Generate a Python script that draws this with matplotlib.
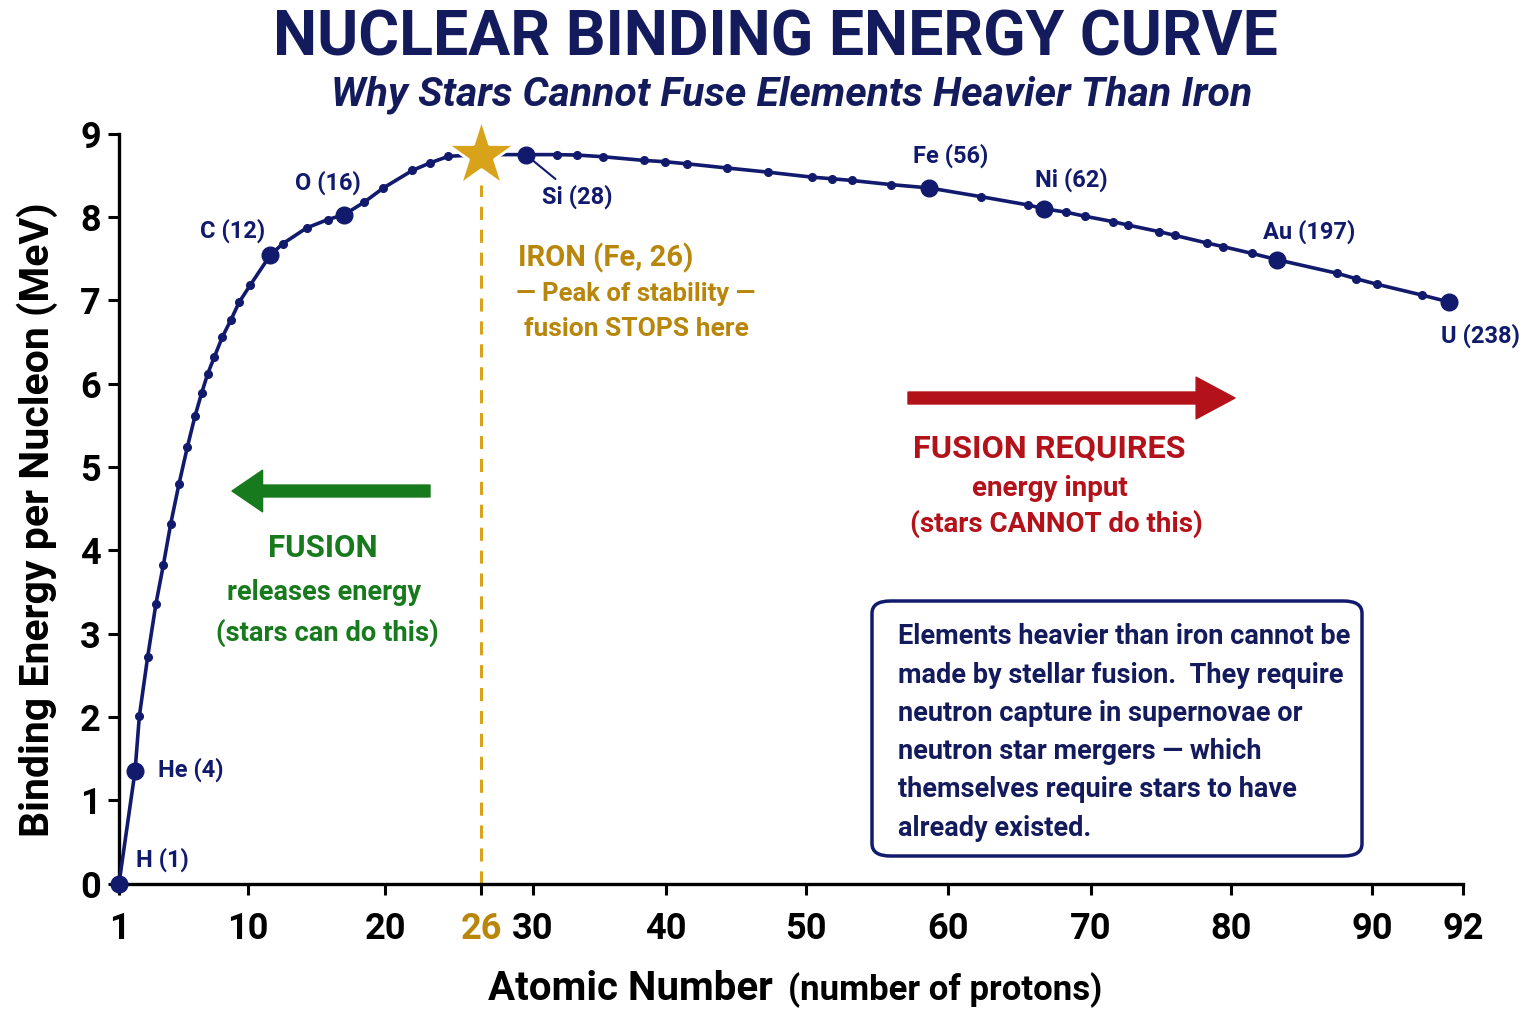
import numpy as np
import matplotlib
matplotlib.use("Agg")
import matplotlib.pyplot as plt
from matplotlib.patches import FancyBboxPatch

plt.rcParams['font.family'] = ['Liberation Sans Narrow', 'Roboto', 'DejaVu Sans']
plt.rcParams['font.weight'] = 'bold'

# ---- data ----
# labelled elements (big dots)
elem_names = ['H (1)', 'He (4)', 'C (12)', 'O (16)', 'Si (28)', 'Fe (56)', 'Ni (62)', 'Au (197)', 'U (238)']
elem_x = [1.0, 2.12, 11.61, 17.03, 29.44, 58.68, 66.71, 83.24, 91.70]
elem_y = [0.0, 1.35, 7.54, 8.03, 8.75, 8.35, 8.10, 7.49, 6.98]

# small dots along the curve
dot_x = [2.42, 3.0, 3.58, 4.09, 4.61, 5.19, 5.77, 6.30, 6.77, 7.19, 7.65, 8.21, 8.79, 9.39,
         10.15, 12.53, 14.28, 15.82, 18.49, 19.88, 21.71, 22.81, 23.96, 31.78, 33.29, 35.24,
         38.37, 39.92, 41.48, 44.34, 47.26, 50.40, 51.85, 53.22, 55.99, 62.31, 65.62, 68.23,
         69.58, 71.59, 72.62, 74.88, 76.0, 78.26, 79.45, 81.47, 87.54, 88.87, 90.10, 91.09]
dot_y = [2.01, 2.72, 3.36, 3.82, 4.32, 4.80, 5.24, 5.61, 5.89, 6.12, 6.32, 6.56, 6.76, 6.98,
         7.18, 7.68, 7.87, 7.97, 8.18, 8.35, 8.56, 8.65, 8.73, 8.75, 8.745, 8.725,
         8.68, 8.665, 8.64, 8.59, 8.54, 8.48, 8.46, 8.44, 8.39, 8.245, 8.145, 8.06,
         8.01, 7.945, 7.905, 7.825, 7.78, 7.69, 7.645, 7.565, 7.325, 7.26, 7.195, 7.065]

# iron peak
iron_x = 26
iron_y = 8.75

x_ticks = [1, 10, 20, 26, 30, 40, 50, 60, 70, 80, 90, 92]
y_ticks = [0, 1, 2, 3, 4, 5, 6, 7, 8, 9]

note_lines = ['Elements heavier than iron cannot be',
              'made by stellar fusion.  They require',
              'neutron capture in supernovae or',
              'neutron star mergers — which',
              'themselves require stars to have',
              'already existed.']

# ---- colours ----
NAVY = '#111a6c'
TITLE = '#141b5c'
GOLD = '#d9a21b'
GOLD_TXT = '#b8860b'
GREEN = '#177a1c'
RED = '#b3121a'

W, H = 1536, 1024


def fp(x, y):
    # figure pixel (from top-left) -> figure fraction
    return x / W, 1 - y / H


# the reference axis is not evenly spaced, so stretch it piecewise
stretch = np.array([0, 129, 266, 362, 414, 547, 687, 829, 972, 1112, 1253, 1344], float)
tv = np.array(x_ticks, float)
tv_ext = np.concatenate([[tv[0] - 1000], tv, [tv[-1] + 1000]])
st_ext = np.concatenate([[stretch[0] - 1000 * 14.3], stretch, [stretch[-1] + 1000 * 14.0]])


def fwd(x):
    return np.interp(np.asarray(x, float), tv_ext, st_ext)


def inv(p):
    return np.interp(np.asarray(p, float), st_ext, tv_ext)


fig = plt.figure(figsize=(W / 100, H / 100), dpi=100)
ax = fig.add_axes([119 / W, 1 - 883.5 / H, (1463 - 119) / W, (883.5 - 133.8) / H])
ax.set_xscale('function', functions=(fwd, inv))
ax.set_xlim(1, 92)
ax.set_ylim(0, 9)

# curve through all points
cx = np.array(elem_x + dot_x + [iron_x])
cy = np.array(elem_y + dot_y + [iron_y])
order = np.argsort(cx)
ax.plot(cx[order], cy[order], color=NAVY, lw=2.6, zorder=3, clip_on=False)
ax.plot(dot_x, dot_y, 'o', color=NAVY, ms=5.5, zorder=4, clip_on=False)
ax.plot(elem_x, elem_y, 'o', color=NAVY, ms=12, zorder=5, clip_on=False)

# iron marker and dashed line
ax.vlines(iron_x, 0, 8.38, colors=GOLD, lw=2.2, linestyles=(0, (4.3, 3.2)), zorder=2)
ax.plot([iron_x], [iron_y], marker='*', color=GOLD, ms=52, mec='white', mew=2, zorder=6, clip_on=False)

# element labels (pixel offsets from each dot)
lab_off = [(17, 24, 'left'), (23, 1, 'left'), (-5, 25, 'right'), (-16, 32, 'center'),
           (16, -42, 'left'), (21, 32, 'center'), (27, 29, 'center'), (32, 28, 'center'),
           (31, -34, 'center')]
for name, x, y, (dx, dy, ha) in zip(elem_names, elem_x, elem_y, lab_off):
    if name.startswith('Si'):
        ax.annotate(name, (x, y), xytext=(dx, dy), textcoords='offset pixels', ha=ha, va='center',
                    fontsize=17, color=NAVY, zorder=7,
                    arrowprops=dict(arrowstyle='-', color=NAVY, lw=1.5, shrinkA=3, shrinkB=7))
    else:
        ax.annotate(name, (x, y), xytext=(dx, dy), textcoords='offset pixels', ha=ha, va='center',
                    fontsize=17, color=NAVY, zorder=7)

# axes styling
for s in ['top', 'right']:
    ax.spines[s].set_visible(False)
for s in ['left', 'bottom']:
    ax.spines[s].set_linewidth(2.4)
ax.set_xticks(x_ticks)
ax.set_xticklabels([str(t) for t in x_ticks])
ax.set_yticks(y_ticks)
ax.tick_params(axis='both', length=8, width=2.2, labelsize=26)
ax.tick_params(axis='x', pad=12)
ax.tick_params(axis='y', pad=5)
ax.minorticks_off()
for lbl, t in zip(ax.get_xticklabels(), x_ticks):
    if t == iron_x:
        lbl.set_color(GOLD_TXT)
ax.get_xticklines()[2 * x_ticks.index(iron_x)].set_color(GOLD)

# titles
fig.text(*fp(775, 38), 'NUCLEAR BINDING ENERGY CURVE', ha='center', va='center',
         fontsize=45, color=TITLE, fontweight='bold')
fig.text(*fp(792, 95), 'Why Stars Cannot Fuse Elements Heavier Than Iron', ha='center', va='center',
         fontsize=29.5, color=TITLE, fontweight='bold', style='italic')

# axis labels
fig.text(*fp(773, 1000), 'Atomic Number', ha='right', va='baseline', fontsize=29, color='black')
fig.text(*fp(788, 1000), '(number of protons)', ha='left', va='baseline', fontsize=25, color='black')
fig.text(*fp(37, 520), 'Binding Energy per Nucleon (MeV)', ha='center', va='center',
         rotation=90, fontsize=29.5, color='black')

# iron annotation
fig.text(*fp(518, 258), 'IRON (Fe, 26)', ha='left', va='center', fontsize=21, color=GOLD_TXT)
fig.text(*fp(636, 294), '— Peak of stability —', ha='center', va='center', fontsize=18.5, color=GOLD_TXT)
fig.text(*fp(636, 329), 'fusion STOPS here', ha='center', va='center', fontsize=19, color=GOLD_TXT)

# fusion arrows
ax.annotate('', xy=(232, H - 491), xytext=(430, H - 491), xycoords='figure pixels',
            textcoords='figure pixels',
            arrowprops=dict(arrowstyle='simple,head_length=2.2,head_width=3.0,tail_width=0.86',
                            mutation_scale=10, color=GREEN, shrinkA=0, shrinkB=0))
ax.annotate('', xy=(1235, H - 398), xytext=(908, H - 398), xycoords='figure pixels',
            textcoords='figure pixels',
            arrowprops=dict(arrowstyle='simple,head_length=2.8,head_width=3.0,tail_width=0.86',
                            mutation_scale=10, color=RED, shrinkA=0, shrinkB=0))

fig.text(*fp(323, 548), 'FUSION', ha='center', va='center', fontsize=22.5, color=GREEN)
fig.text(*fp(324, 592), 'releases energy', ha='center', va='center', fontsize=19.5, color=GREEN)
fig.text(*fp(327, 633), '(stars can do this)', ha='center', va='center', fontsize=19.7, color=GREEN)

fig.text(*fp(1049, 448), 'FUSION REQUIRES', ha='center', va='center', fontsize=23.3, color=RED)
fig.text(*fp(1050, 488), 'energy input', ha='center', va='center', fontsize=20, color=RED)
fig.text(*fp(1056, 524), '(stars CANNOT do this)', ha='center', va='center', fontsize=20, color=RED)

# explanation box
box = FancyBboxPatch(fp(872, 856), (1362 - 872) / W, (856 - 601) / H,
                     boxstyle='round,pad=0,rounding_size=0.012', transform=fig.transFigure,
                     facecolor='white', edgecolor=NAVY, lw=2.5, zorder=1)
fig.add_artist(box)
for i, line in enumerate(note_lines):
    fig.text(*fp(898, 637 + i * 38.2), line, ha='left', va='center', fontsize=19.5, color=TITLE)

fig.savefig('out.png', dpi=100, facecolor='white')
